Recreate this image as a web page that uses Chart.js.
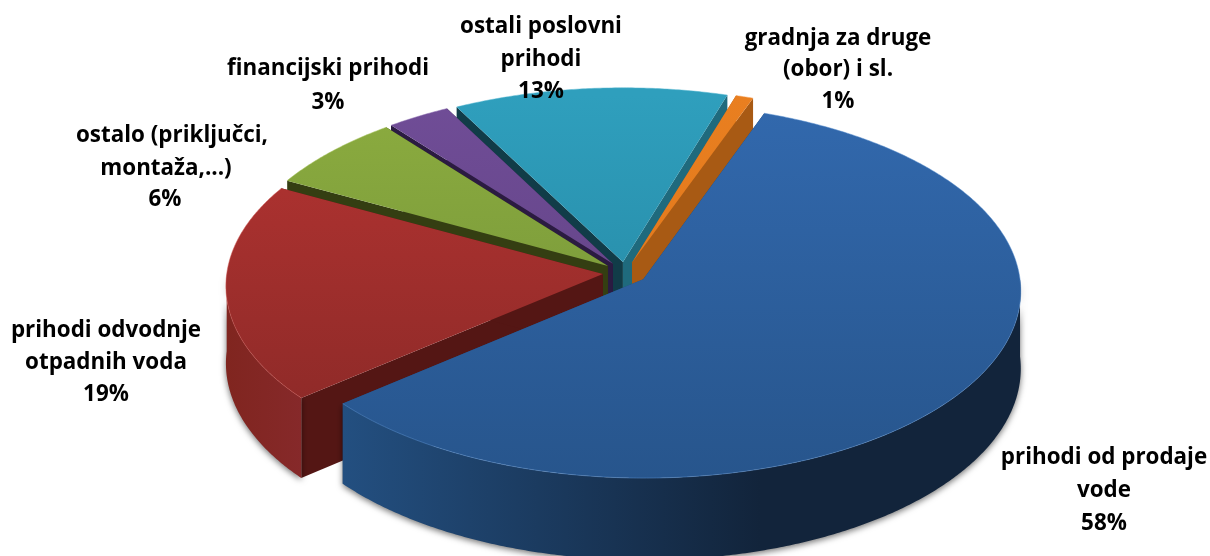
<!DOCTYPE html>
<html>
<head>
<meta charset="utf-8">
<style>html,body{margin:0;padding:0;background:#fff}canvas{display:block}</style>
<script src="https://cdn.jsdelivr.net/npm/chart.js@4/dist/chart.umd.min.js"></script>
</head>
<body>
<canvas id="c" width="1210" height="556"></canvas>
<script>
const categories = ["prihodi od prodaje vode","prihodi odvodnje otpadnih voda","ostalo (priključci, montaža,...)","financijski prihodi","ostali poslovni prihodi","gradnja za druge (obor) i sl."];
const values = [58.4, 18.9, 6.48, 2.92, 12.5, 0.8];
const percentLabels = ["58%","19%","6%","3%","13%","1%"];
const labelLines = [["prihodi od prodaje","vode"],["prihodi odvodnje","otpadnih voda"],["ostalo (priključci,","montaža,...)"],["financijski prihodi"],["ostali poslovni","prihodi"],["gradnja za druge","(obor) i sl."]];

// styles, one per slice
const topLight = ["#3269ae","#b63432","#8cac3f","#704d97","#2f9fbd","#e97f20"];
const topDark  = ["#27558c","#862826","#6f8f38","#5c3f7e","#22809b","#dc7419"];
const cutStart = ["#1b3c62","#541614","#343e12","#2b1b41","#113c48","#ae5f16"];
const cutEnd   = ["#1f4a7b","#541614","#343e12","#2b1b41","#1f6a7d","#a85a14"];
const wallFrom = ["#234f80","#86292a","#343e12","#2b1b41","#113c48","#ae5f16"];
const wallTo   = ["#12243b","#80251f","#343e12","#2b1b41","#113c48","#ae5f16"];
const rim      = ["#5a8fd0","#d25a55","#a6c45a","#8a6ab0","#55b8d2","#f59a4a"];
const paintOrder = [4,5,3,2,1,0];

// projection of the pie plane and label placement
const view = {cx:625, cy:273, rx:376, ry:186, depth:77, persp:0.06};
const labelFont = 'bold 22.4px "Open Sans", Lato, sans-serif';
const labelX = [[1104,1104,1104],[106,106,106],[172,166,165],[328,328],[541,541,541],[838,838,838]];
const labelY = [[458,491,524],[331,363,395],[136,169,200],[69,103],[27,60,92],[39,70,102]];

const pie3d = {
  id:'pie3d',
  beforeDatasetsDraw(chart){
    const ctx = chart.ctx, arcs = chart.getDatasetMeta(0).data;
    paintOrder.forEach(i=>{
      const el = arcs[i], a0 = el.startAngle, a1 = el.endAngle, mid=(a0+a1)/2;
      const off = el.options.offset/el.outerRadius;
      const pt = (r,a,z)=>{
        const u = off*Math.cos(mid)+r*Math.cos(a), v = off*Math.sin(mid)+r*Math.sin(a);
        const s = 1/(1-view.persp*v);
        return [view.cx+view.rx*u*s, view.cy+view.ry*v*s+z*view.depth*s];
      };
      const poly = (pts,fill)=>{
        ctx.beginPath();
        pts.forEach((p,k)=>k?ctx.lineTo(p[0],p[1]):ctx.moveTo(p[0],p[1]));
        ctx.closePath(); ctx.fillStyle=fill; ctx.fill();
      };
      const arcPts = (b0,b1,z)=>{
        const n=Math.max(2,Math.ceil(Math.abs(b1-b0)*120)), o=[];
        for(let k=0;k<=n;k++){o.push(pt(1,b0+(b1-b0)*k/n,z));}
        return o;
      };
      ctx.save();
      poly([pt(0,a0,0),pt(1,a0,0),pt(1,a0,1),pt(0,a0,1)],cutStart[i]);
      poly([pt(0,a1,0),pt(1,a1,0),pt(1,a1,1),pt(0,a1,1)],cutEnd[i]);
      // outer wall: only the part that faces the viewer
      const two=Math.PI*2; let b0=a0, b1=a1;
      const ranges=[[0,Math.PI],[two,two+Math.PI]];
      ranges.forEach(r=>{
        const s=Math.max(b0,r[0]), e=Math.min(b1,r[1]);
        if(e>s){
          const g=ctx.createLinearGradient(i===0?343:225,0,i===0?760:303,0);
          g.addColorStop(0,i===0?wallFrom[i]:wallTo[i]);
          g.addColorStop(1,i===0?wallTo[i]:wallFrom[i]);
          ctx.save();
          ctx.shadowColor='rgba(0,0,0,0.55)';ctx.shadowBlur=6;ctx.shadowOffsetY=2;
          poly(arcPts(s,e,0).concat(arcPts(e,s,1)),g);
          ctx.restore();
        }
      });
      const g=ctx.createLinearGradient(0,95,0,480);
      g.addColorStop(0,topLight[i]); g.addColorStop(1,topDark[i]);
      poly([pt(0,a0,0)].concat(arcPts(a0,a1,0)),g);
      // bevel highlight along the rim
      ctx.beginPath();
      arcPts(a0,a1,0).forEach((p,k)=>k?ctx.lineTo(p[0],p[1]):ctx.moveTo(p[0],p[1]));
      ctx.strokeStyle=rim[i]; ctx.lineWidth=1; ctx.globalAlpha=.5; ctx.stroke();
      ctx.restore();
    });
    return false;
  },
  afterDraw(chart){
    const ctx=chart.ctx;
    ctx.save();
    ctx.font=labelFont; ctx.fillStyle='#000'; ctx.textAlign='center'; ctx.textBaseline='middle';
    categories.forEach((c,i)=>{
      labelLines[i].concat(percentLabels[i]).forEach((t,k)=>ctx.fillText(t,labelX[i][k],labelY[i][k]));
    });
    ctx.restore();
  }
};

new Chart(document.getElementById('c'),{
  type:'pie',
  data:{labels:categories,datasets:[{data:values,backgroundColor:topLight,borderWidth:0,offset:16}]},
  options:{
    responsive:false,animation:false,rotation:20,
    plugins:{legend:{display:false},tooltip:{enabled:false}}
  },
  plugins:[pie3d]
});
</script>
</body>
</html>
